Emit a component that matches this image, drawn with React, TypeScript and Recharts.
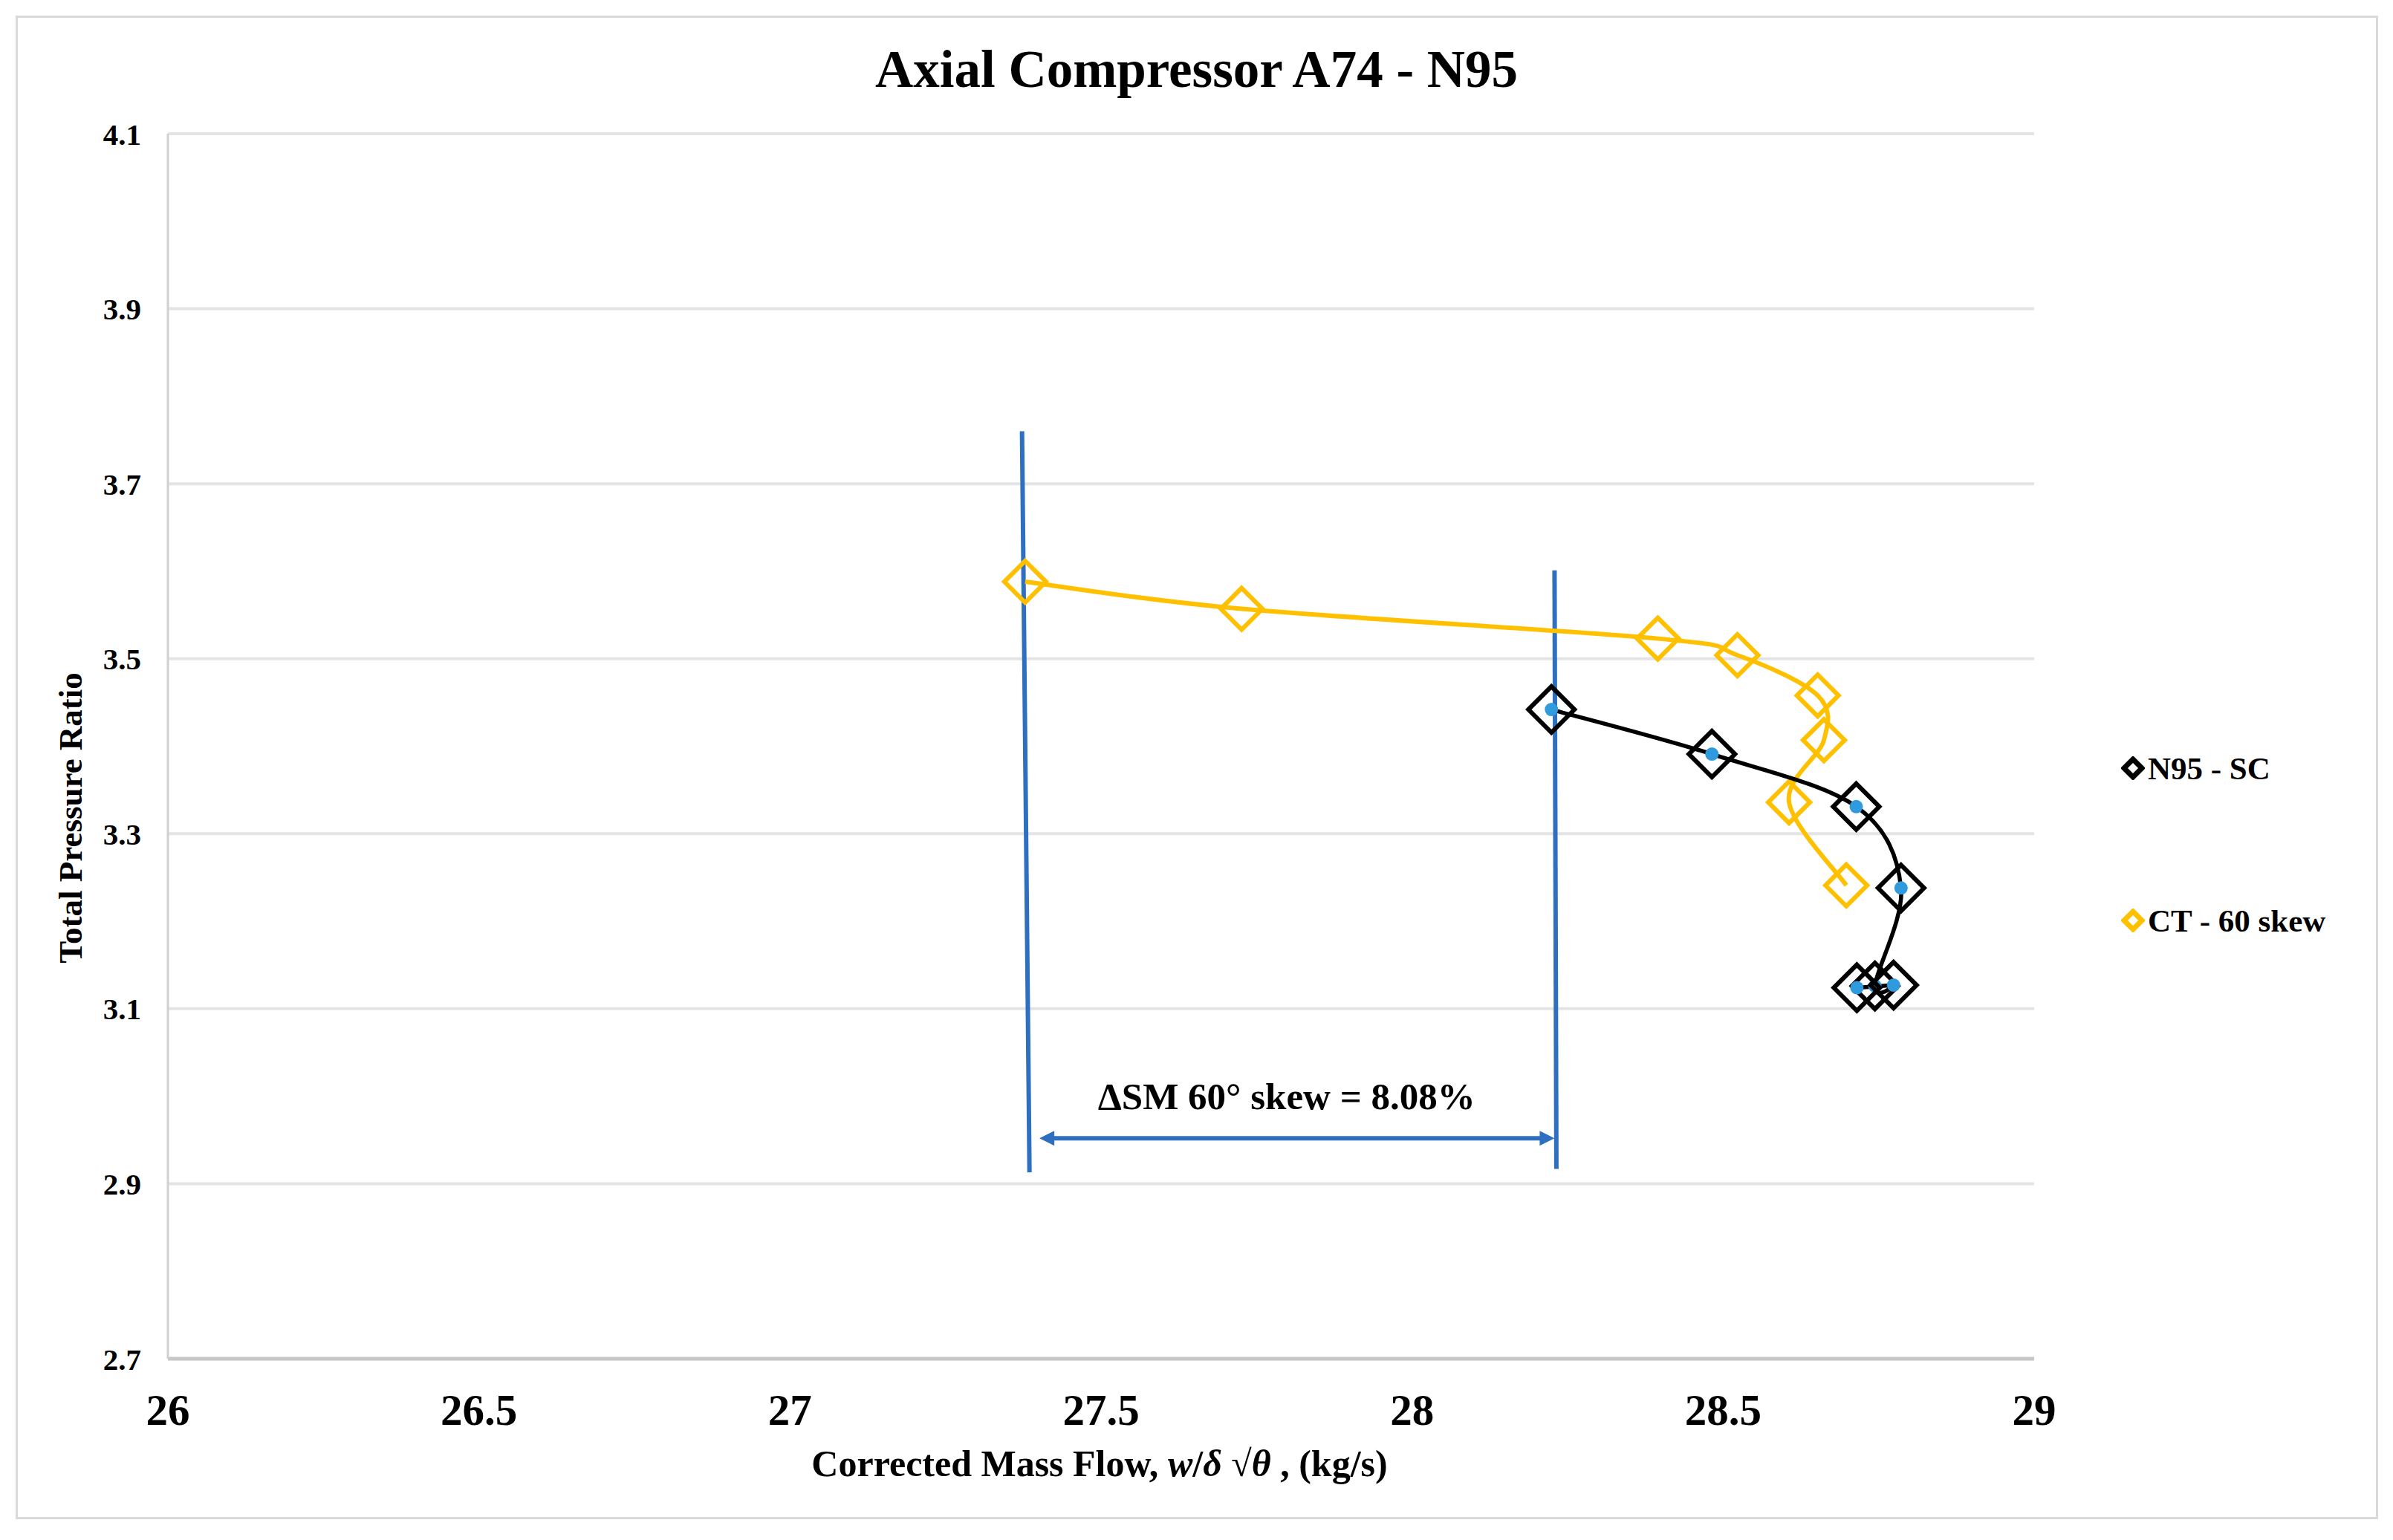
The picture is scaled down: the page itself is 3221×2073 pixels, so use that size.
import React from "react";
import {
	CartesianGrid,
	Legend,
	ReferenceLine,
	Scatter,
	ScatterChart,
	XAxis,
	YAxis,
} from "recharts";

const xTicks = [26, 26.5, 27, 27.5, 28, 28.5, 29];
const yTicks = [2.7, 2.9, 3.1, 3.3, 3.5, 3.7, 3.9, 4.1];

// N95 - SC (baseline)
const scFlow = [28.224, 28.482, 28.714, 28.786, 28.744, 28.774, 28.715];
const scRatio = [3.442, 3.391, 3.331, 3.238, 3.126, 3.127, 3.124];

// CT - 60 skew (casing treatment)
const ctFlow = [27.378, 27.726, 28.395, 28.523, 28.652, 28.662, 28.606, 28.698];
const ctRatio = [3.588, 3.557, 3.523, 3.504, 3.458, 3.407, 3.336, 3.241];

// stall limits and the margin arrow between them (flow, pressure ratio)
const ctStallLine = [
	{ x: 27.373, y: 3.76 },
	{ x: 27.385, y: 2.913 },
];
const scStallLine = [
	{ x: 28.229, y: 3.601 },
	{ x: 28.232, y: 2.917 },
];
const marginArrow = [
	{ x: 27.401, y: 2.952 },
	{ x: 28.229, y: 2.952 },
];
const marginText = "ΔSM 60° skew = 8.08%";

const series = [
	{ name: "N95 - SC", color: "#000000" },
	{ name: "CT - 60 skew", color: "#FFC000" },
];

const scData = scFlow.map((flow, i) => ({ flow, ratio: scRatio[i] }));
const ctData = ctFlow.map((flow, i) => ({ flow, ratio: ctRatio[i] }));

const FONT = "'Liberation Serif', 'Times New Roman', serif";
const BLUE = "#2E6FBF";

// Excel-style smoothed line (Catmull-Rom through every point)
const smoothCurve = (context: any) => {
	let pts: number[][] = [];
	return {
		areaStart() {},
		areaEnd() {},
		lineStart() {
			pts = [];
		},
		point(x: number, y: number) {
			pts.push([+x, +y]);
		},
		lineEnd() {
			if (!pts.length) return;
			context.moveTo(pts[0][0], pts[0][1]);
			for (let i = 0; i < pts.length - 1; i++) {
				const p0 = pts[Math.max(i - 1, 0)];
				const p1 = pts[i];
				const p2 = pts[i + 1];
				const p3 = pts[Math.min(i + 2, pts.length - 1)];
				context.bezierCurveTo(
					p1[0] + (p2[0] - p0[0]) / 6,
					p1[1] + (p2[1] - p0[1]) / 6,
					p2[0] - (p3[0] - p1[0]) / 6,
					p2[1] - (p3[1] - p1[1]) / 6,
					p2[0],
					p2[1],
				);
			}
		},
	};
};

const diamond = (stroke: string, half: number, withDot: boolean) => (props: any) => {
	const { cx, cy } = props;
	return (
		<g>
			<polygon
				points={`${cx},${cy - half} ${cx + half},${cy} ${cx},${cy + half} ${cx - half},${cy}`}
				fill="none"
				stroke={stroke}
				strokeWidth={6}
				strokeLinejoin="miter"
			/>
			{withDot && <circle cx={cx} cy={cy} r={9} fill="#2F9ADE" />}
		</g>
	);
};

const renderArrow = (props: any) => {
	const { x1, y1, x2, y2 } = props;
	const head = 20;
	const w = 10;
	return (
		<g>
			<line x1={x1 + head - 2} y1={y1} x2={x2 - head + 2} y2={y2} stroke={BLUE} strokeWidth={6} />
			<polygon points={`${x1},${y1} ${x1 + head},${y1 - w} ${x1 + head},${y1 + w}`} fill={BLUE} />
			<polygon points={`${x2},${y2} ${x2 - head},${y2 - w} ${x2 - head},${y2 + w}`} fill={BLUE} />
			<text
				x={(x1 + x2) / 2 - 14}
				y={y1 - 39}
				textAnchor="middle"
				fontFamily={FONT}
				fontWeight="bold"
				fontSize={51}
				fill="#000"
			>
				{marginText}
			</text>
		</g>
	);
};

const renderLegend = () => (
	<div style={{ fontFamily: FONT, fontWeight: "bold", fontSize: 43, color: "#000" }}>
		{series.map((s, i) => (
			<div
				key={s.name}
				style={{
					display: "flex",
					alignItems: "center",
					height: 60,
					marginBottom: i === 0 ? 145 : 0,
					whiteSpace: "nowrap",
				}}
			>
				<svg width={32} height={32} style={{ marginRight: 4 }}>
					<polygon points="16,4 28,16 16,28 4,16" fill="#fff" stroke={s.color} strokeWidth={7} />
				</svg>
				<span>{s.name}</span>
			</div>
		))}
	</div>
);

const XTitle = (props: any) => {
	const { viewBox } = props;
	return (
		<text
			x={viewBox.x + viewBox.width / 2 - 2}
			y={viewBox.y + 158}
			textAnchor="middle"
			fontFamily={FONT}
			fontWeight="bold"
			fontSize={50}
			fill="#000"
		>
			<tspan>Corrected Mass Flow, </tspan>
			<tspan fontStyle="italic">w</tspan>
			<tspan>/</tspan>
			<tspan fontStyle="italic">δ</tspan>
			<tspan> √</tspan>
			<tspan fontStyle="italic">θ</tspan>
			<tspan> , (kg/s)</tspan>
		</text>
	);
};

const YTitle = (props: any) => {
	const { viewBox } = props;
	const x = viewBox.x + 84;
	const y = viewBox.y + 921;
	return (
		<text
			x={x}
			y={y}
			transform={`rotate(-90, ${x}, ${y})`}
			textAnchor="middle"
			fontFamily={FONT}
			fontWeight="bold"
			fontSize={45}
			fill="#000"
		>
			Total Pressure Ratio
		</text>
	);
};

export default function App() {
	return (
		<div style={{ position: "absolute", left: 0, top: 0, width: 3221, height: 2073, background: "#fff" }}>
			<div
				style={{
					position: "absolute",
					left: 21,
					top: 21,
					width: 3180,
					height: 2024,
					boxSizing: "border-box",
					border: "3px solid #d9d9d9",
				}}
			/>
			<div
				style={{
					position: "absolute",
					left: 0,
					top: 58,
					width: 3221,
					textAlign: "center",
					fontFamily: FONT,
					fontWeight: "bold",
					fontSize: 71,
					lineHeight: "71px",
				}}
			>
				Axial Compressor A74 - N95
			</div>
			<div style={{ position: "absolute", left: 0, top: 0 }}>
				<ScatterChart width={3221} height={2073} margin={{ top: 180, right: 483, bottom: 44, left: 26 }}>
					<CartesianGrid vertical={false} stroke="#e4e4e4" strokeWidth={4} />
					<XAxis
						type="number"
						dataKey="flow"
						domain={[26, 29]}
						ticks={xTicks}
						allowDataOverflow
						height={200}
						tickLine={false}
						tickSize={0}
						tickMargin={47}
						axisLine={{ stroke: "#c6c6c6", strokeWidth: 5 }}
						tick={{ fill: "#000", fontSize: 59, fontWeight: "bold", fontFamily: FONT }}
						label={<XTitle />}
					/>
					<YAxis
						type="number"
						dataKey="ratio"
						domain={[2.7, 4.1]}
						ticks={yTicks}
						allowDataOverflow
						width={200}
						tickLine={false}
						tickSize={0}
						tickMargin={36}
						axisLine={{ stroke: "#d0d0d0", strokeWidth: 3 }}
						tickFormatter={(v: number) => v.toFixed(1)}
						tick={{ fill: "#000", fontSize: 41, fontWeight: "bold", fontFamily: FONT }}
						label={<YTitle />}
					/>
					<Scatter
						name="CT - 60 skew"
						data={ctData}
						fill="#FFC000"
						line={{ stroke: "#FFC000", strokeWidth: 6 }}
						lineJointType={smoothCurve as any}
						shape={diamond("#FFC000", 28, false)}
						isAnimationActive={false}
					/>
					<Scatter
						name="N95 - SC"
						data={scData}
						fill="#000000"
						line={{ stroke: "#000000", strokeWidth: 5.5 }}
						lineJointType={smoothCurve as any}
						shape={diamond("#000000", 31, true)}
						isAnimationActive={false}
					/>
					<ReferenceLine segment={ctStallLine} stroke={BLUE} strokeWidth={6} />
					<ReferenceLine segment={scStallLine} stroke={BLUE} strokeWidth={6} />
					<ReferenceLine segment={marginArrow} shape={renderArrow} />
					<Legend
						layout="vertical"
						align="center"
						verticalAlign="middle"
						content={renderLegend}
						wrapperStyle={{ left: 2855, top: 1004, width: 340 }}
					/>
				</ScatterChart>
			</div>
		</div>
	);
}
